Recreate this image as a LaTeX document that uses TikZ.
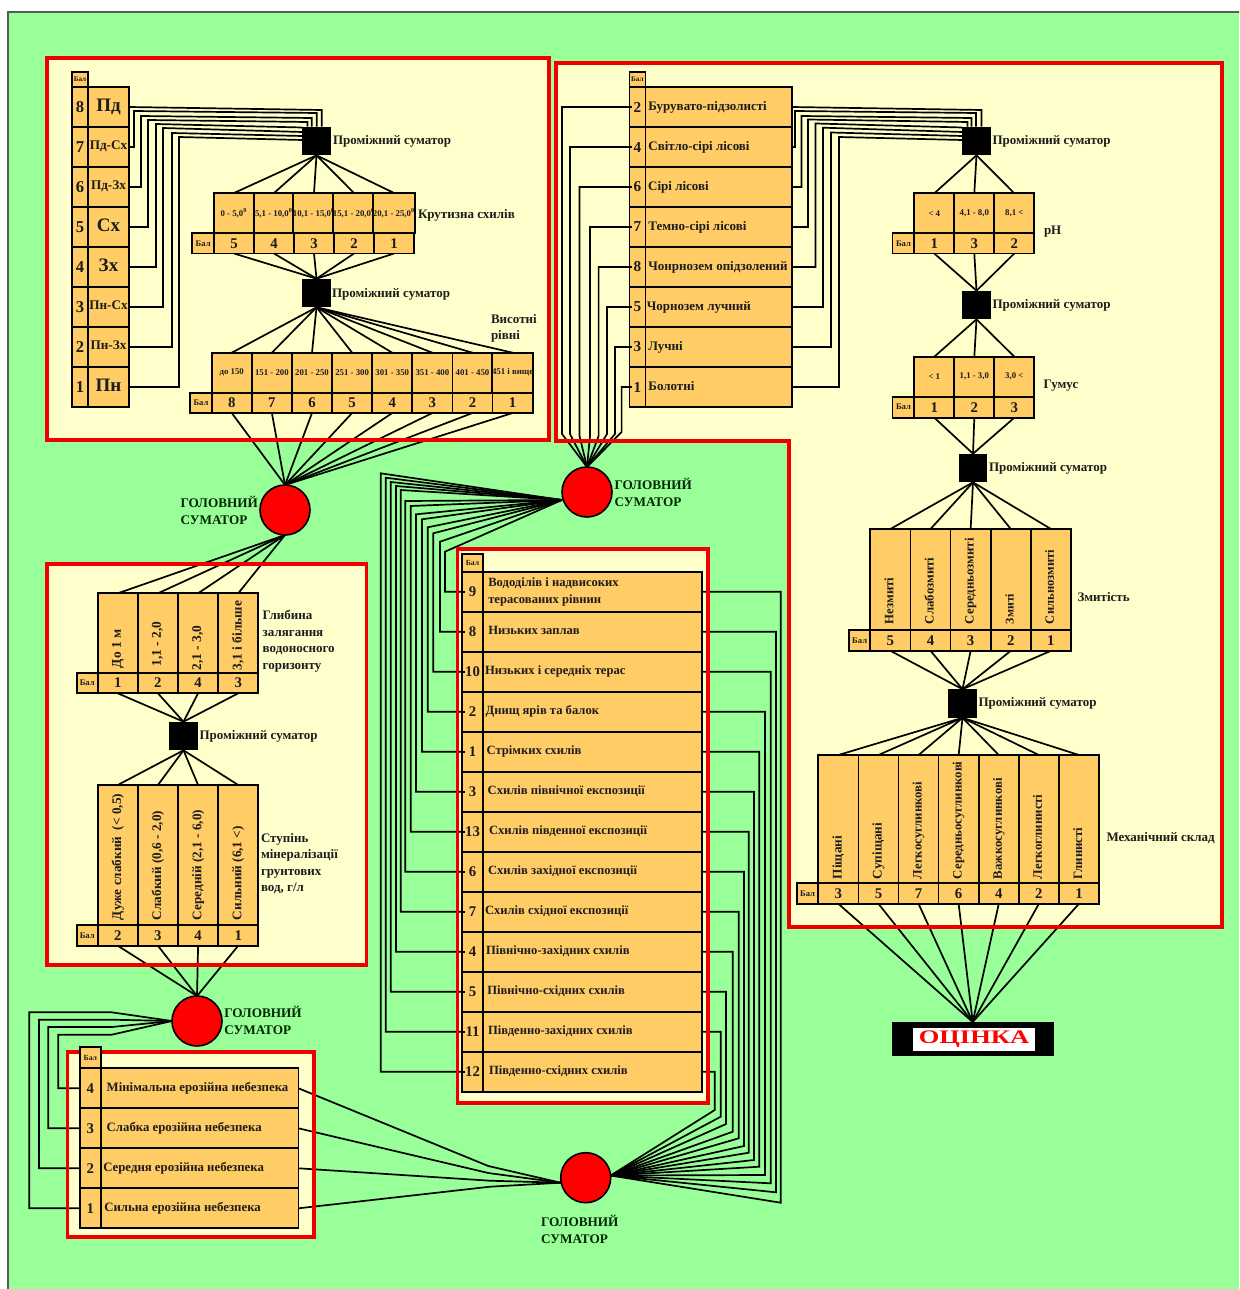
\documentclass[tikz,border=0pt]{standalone}
\usepackage{fontspec}
\usepackage{graphicx}
\setmainfont{Liberation Serif}
\usetikzlibrary{calc}
\definecolor{cellc}{HTML}{FFCC66}
\definecolor{bgreen}{HTML}{99FF99}
\definecolor{pane}{HTML}{FFFFCC}
\definecolor{redc}{HTML}{EE0000}
\definecolor{tcol}{HTML}{1C1C1C}
\pgfdeclarelayer{bgfill}
\pgfdeclarelayer{wires}
\pgfdeclarelayer{redl}
\pgfdeclarelayer{topl}
\pgfsetlayers{bgfill,wires,redl,main,topl}
\newdimen\pxu \pxu=0.5pt
\newcommand{\fs}[1]{\fontsize{#1}{#1}\bfseries\selectfont}
\tikzset{
  cellb/.style={draw=black,fill=cellc,line width=0.85pt,inner sep=0pt,outer sep=0pt,text=tcol,font=\fs{4.4}},
  wire/.style={draw=black,line width=0.85pt,line join=miter},
  panelb/.style={draw=redc,line width=1.75pt,line join=miter},
  panelf/.style={fill=pane},
  sumsq/.style={fill=black,inner sep=0pt,outer sep=0pt,minimum size=14.3pt},
  sumc/.style={circle,draw=black,fill=red,line width=0.8pt,minimum size=25pt,inner sep=0pt,outer sep=0pt},
  lab/.style={anchor=west,inner sep=0pt,outer sep=0pt,text=tcol,align=left,font=\fontsize{6.5}{8.25}\bfseries\selectfont},
  sumlab/.style={lab,font=\fontsize{6.5}{8}\bfseries\selectfont},
  headlab/.style={lab,font=\fontsize{6.6}{8.5}\bfseries\selectfont,text=black!85!green},
}
% cell given by its corners in pixels
\newcommand{\cellbox}[7][]{%
  \pgfmathsetmacro\cw{(#5-#3)*0.5}\pgfmathsetmacro\ch{(#6-#4)*0.5}%
  \node[cellb,minimum width=\cw pt,minimum height=\ch pt,#1] (#2) at ({(#3+#5)/2},{(#4+#6)/2}) {#7};}
\newcommand{\rotlab}[3]{\rotatebox{90}{\makebox[\curH pt][l]{\hspace*{#1\pxu}\fs{#2}#3\vphantom{Бр}}}}
% horizontal table: prefix, x0, ytop, ymid, ybot, xbal, cellw, items
\newcommand{\htable}[8]{%
  \pgfmathsetmacro\curH{(#4-#3)*0.5}%
  \foreach \tx/\vl [count=\ii] in {#8}{%
    \pgfmathsetmacro\xa{#2+(\ii-1)*#7}\pgfmathsetmacro\xb{\xa+#7}%
    \cellbox{#1t\ii}{\xa}{#3}{\xb}{#4}{\tx}%
    \cellbox[font=\fs{7.4}]{#1b\ii}{\xa}{#4}{\xb}{#5}{\vl}%
  }%
  \cellbox[font=\fs{4.3}]{#1bal}{#6}{#4}{#2}{#5}{Бал}%
}
% vertical table: prefix, xa, xb, xc, ytop, numfont, label font, items num/off/text
\newcommand{\vtable}[8]{%
  \pgfmathsetmacro\labw{(#4-#3)*0.5}%
  \foreach \nm/\off/\tx [count=\ii] in {#8}{%
    \pgfmathsetmacro\ya{#5+(\ii-1)*40}\pgfmathsetmacro\yb{\ya+40}%
    \cellbox[font=\fs{#6}]{#1n\ii}{#2}{\ya}{#3}{\yb}{\nm}%
    \cellbox[font=\fs{#7}]{#1l\ii}{#3}{\ya}{#4}{\yb}{\makebox[\labw pt][\vtalign]{\hspace*{\off\pxu}\tx\vphantom{Бр}}}%
  }%
}
\newcommand{\vtalign}{l}
\newcommand{\fanup}[3]{\begin{pgfonlayer}{wires}\foreach \ii in {1,...,#3}{\draw[wire] (#1) -- (#2t\ii.north);}\end{pgfonlayer}}
\newcommand{\fandown}[3]{\begin{pgfonlayer}{wires}\foreach \ii in {1,...,#2}{\draw[wire] (#1b\ii.south) -- (#3);}\end{pgfonlayer}}
\begin{document}
\begin{tikzpicture}[x=0.5pt,y=-0.5pt]
\useasboundingbox (0,0) rectangle (1239,1289);
\begin{pgfonlayer}{bgfill}
  \fill[white] (0,0) rectangle (1239,1289);
  \begin{scope}
    \clip (0,0) rectangle (1239,1289);
    \draw[fill=bgreen,draw=black!65,line width=0.7pt] (8,12) rectangle (1245,1295);
  \end{scope}
  \fill[panelf] (47,58) rectangle (549,440);
  \fill[panelf] (556,63) -- (1222,63) -- (1222,927) -- (789,927) -- (789,441) -- (556,441) -- cycle;
  \fill[panelf] (47,564) rectangle (366.5,965);
  \fill[panelf] (457.5,549) rectangle (708,1103);
  \fill[panelf] (67.5,1052) rectangle (314,1237);
\end{pgfonlayer}
\begin{pgfonlayer}{redl}
  \draw[panelb] (47,58) rectangle (549,440);
  \draw[panelb] (556,63) -- (1222,63) -- (1222,927) -- (789,927) -- (789,441) -- (556,441) -- cycle;
  \draw[panelb] (47,564) rectangle (366.5,965);
  \draw[panelb] (457.5,549) rectangle (708,1103);
  \draw[panelb] (67.5,1052) rectangle (314,1237);
\end{pgfonlayer}

% ---------- panel 1
\cellbox[font=\fs{3.6}]{tabal}{72}{72}{88}{87}{Бал}
\renewcommand{\vtalign}{c}
\vtable{ta}{72}{88}{129}{87}{8.3}{9}{8/0/{\fs{9.5}Пд},7/0/{\fs{6.6}Пд-Сх},6/0/{\fs{6.6}Пд-Зх},5/0/{\fs{9.5}Сх},4/0/{\fs{9.5}Зх},3/0/{\fs{6.6}Пн-Сх},2/0/{\fs{6.6}Пн-Зх},1/0/{\fs{9.5}Пн}}
\renewcommand{\vtalign}{l}
\node[sumsq] (sa) at (316.5,141) {};
\node[sumlab] (sala) at (333,141) {Проміжний суматор};
\htable{kr}{214}{193}{233}{253.5}{192.3}{40}{{0 - 5,0\textsuperscript{0}}/5,{5,1 - 10,0\textsuperscript{0}}/4,{10,1 - 15,0\textsuperscript{0}}/3,{15,1 - 20,0\textsuperscript{0}}/2,{20,1 - 25,0\textsuperscript{0}}/1}
\node[lab] (krla) at (418,215) {Крутизна схилів};
\node[sumsq] (sb) at (316.5,293) {};
\node[sumlab] (sbla) at (332,294) {Проміжний суматор};
\htable{vy}{211.7}{352.7}{392.7}{413}{190.3}{40.125}{до 150/8,151 - 200/7,201 - 250/6,251 - 300/5,301 - 350/4,351 - 400/3,401 - 450/2,451 і вище/1}
\node[lab] (vyla) at (491,328.5) {Висотні\\рівні};
\node[sumc] (ca) at (285,510) {};
\node[headlab] (cala) at (180.5,510.5) {ГОЛОВНИЙ\\СУМАТОР};

% ---------- panel 2 (soils)
\cellbox[font=\fs{3.6}]{tbbal}{629.4}{72}{645.4}{87}{Бал}
\vtable{tb}{629.4}{645.4}{792}{87}{7.6}{6.5}{2/3/Бурувато-підзолисті,4/3/Світло-сірі лісові,6/2.8/Сірі лісові,7/3/Темно-сірі лісові,8/3/Чонрнозем опідзолений,5/1.5/Чорнозем лучний,3/3/Лучні,1/3/Болотні}
\node[sumsq] (sd) at (976.5,141) {};
\node[sumlab] (sdla) at (992.5,141) {Проміжний суматор};
\htable{ph}{914.3}{193.3}{233}{253.5}{892.6}{40}{{< 4}/1,{4,1 - 8,0}/3,{8,1 <}/2}
\node[lab] (phla) at (1044,231.5) {рН};
\node[sumsq] (se) at (976.5,305) {};
\node[sumlab] (sela) at (992.5,305) {Проміжний суматор};
\htable{gu}{914.3}{356.7}{396.7}{417.7}{892.6}{40}{{< 1}/1,{1,1 - 3,0}/2,{3,0 <}/3}
\node[lab] (gula) at (1043.5,385.5) {Гумус};
\node[sumsq] (sf) at (973,468) {};
\node[sumlab] (sfla) at (989,468) {Проміжний суматор};
\htable{zm}{870.3}{529}{630}{650.8}{849}{40.14}{{\rotlab{6}{6.4}{Незмиті}}/5,{\rotlab{6}{6.4}{Слабозмиті}}/4,{\rotlab{6}{6.4}{Середньозмиті}}/3,{\rotlab{6}{5.9}{Змиті}}/2,{\rotlab{6}{6.3}{Сильнозмиті}}/1}
\node[lab] (zmla) at (1077.5,597) {Змитість};
\node[sumsq] (sg) at (962.5,703.5) {};
\node[sumlab] (sgla) at (978.5,703.5) {Проміжний суматор};
\htable{me}{818.3}{755}{883}{903.8}{796.7}{40.1}{{\rotlab{4}{6.6}{Піщані}}/3,{\rotlab{4}{6.6}{Супіщані}}/5,{\rotlab{4}{6.4}{Легкосуглинкові}}/7,{\rotlab{4}{6.4}{Середньосуглинкові}}/6,{\rotlab{4}{6.4}{Важкосуглинкові}}/4,{\rotlab{4}{6.4}{Легкоглинисті}}/2,{\rotlab{4}{6.4}{Глинисті}}/1}
\node[lab] (mela) at (1106.5,838) {Механічний склад};
\node[fill=black,minimum width=81pt,minimum height=17pt,inner sep=0pt,outer sep=0pt] (oc) at (972.7,1039) {};
\node[fill=white,minimum width=61pt,minimum height=11.5pt,inner sep=0pt,text=red,font=\fs{9.6}] (ocin) at (974,1039) {\scalebox{1.38}[1]{ОЦІНКА}};

% ---------- panel 4 (ground water)
\htable{gl}{97.7}{593.3}{672.7}{693.3}{76.7}{40.15}{{\rotlab{4.5}{6.7}{До 1 м}}/1,{\rotlab{6.5}{6.7}{1,1 - 2,0}}/2,{\rotlab{2.5}{6.7}{2,1 - 3,0}}/4,{\rotlab{2.5}{6.7}{3,1 і більше}}/3}
\node[lab] (glla) at (262.7,641) {Глибина\\залягання\\водоносного\\горизонту};
\node[sumsq] (sc) at (183.5,736) {};
\node[sumlab] (scla) at (199.5,736.5) {Проміжний суматор};
\htable{st}{97.7}{785}{925}{945.7}{76.7}{40.15}{{\rotlab{5}{6.6}{Дуже слабкий\ \ (< 0,5)}}/2,{\rotlab{5}{6.6}{Слабкий (0,6 - 2,0)}}/3,{\rotlab{5}{6.6}{Середній (2,1 - 6,0)}}/4,{\rotlab{5}{6.6}{Сильний (6,1 <)}}/1}
\node[lab] (stla) at (261,863.5) {Ступінь\\мінералізації\\грунтових\\вод, г/л};
\node[sumc] (cc) at (197,1021) {};
\node[headlab] (ccla) at (224.3,1020.5) {ГОЛОВНИЙ\\СУМАТОР};

% ---------- panel 3 (relief)
\cellbox[font=\fs{3.9}]{tcbal}{462.3}{554.3}{482.7}{571.7}{Бал}
\vtable{tc}{462.3}{482.7}{702.3}{571.7}{7.4}{6.3}{9/5.6/{\parbox[c]{100pt}{\fontsize{6.3}{8.3}\selectfont Вододілів і надвисоких\\терасованих рівнин}},8/5.6/Низьких заплав,10/2.3/Низьких і середніх терас,2/3/Днищ ярів та балок,1/4/Стрімких схилів,3/5/Схилів північної експозиції,13/6.3/Схилів південної експозиції,6/5.3/Схилів західної експозиції,7/2.3/Схилів східної експозиції,4/3.3/Північно-західних схилів,5/4.6/Північно-східних схилів,11/5.3/Південно-західних схилів,12/6.3/Південно-східних схилів}
\node[sumc] (cb) at (587,492) {};
\node[headlab] (cbla) at (614.5,492.5) {ГОЛОВНИЙ\\СУМАТОР};
\node[sumc] (cd) at (585.7,1177.7) {};
\node[headlab] (cdla) at (541,1229) {ГОЛОВНИЙ\\СУМАТОР};

% ---------- panel 5 (erosion)
\cellbox[font=\fs{3.9}]{tdbal}{80}{1047}{100.7}{1068.3}{Бал}
\vtable{td}{80}{100.7}{298.5}{1068.3}{7.4}{6.4}{4/6/Мінімальна ерозійна небезпека,3/6/Слабка ерозійна небезпека,2/2.6/Середня ерозійна небезпека,1/3.6/Сильна ерозійна небезпека}

% ---------- fans
\fanup{sa.south}{kr}{5}
\fandown{kr}{5}{sb.north}
\fanup{sb.south}{vy}{8}
\fandown{vy}{8}{ca.north}
\fanup{sd.south}{ph}{3}
\fandown{ph}{3}{se.north}
\fanup{se.south}{gu}{3}
\fandown{gu}{3}{sf.north}
\fanup{sf.south}{zm}{5}
\fandown{zm}{5}{sg.north}
\fanup{sg.south}{me}{7}
\fandown{me}{7}{oc.north}
\fanup{ca.south}{gl}{4}
\fandown{gl}{4}{sc.north}
\fanup{sc.south}{st}{4}
\fandown{st}{4}{cc.north}

\begin{pgfonlayer}{wires}
% bundle of panel 1 into the square
\draw[wire] (tal1.east) -- (321.7,110) -- (321.7,0 |- sa.north);
\foreach \ii/\vx/\ya/\xb/\yb in {2/134/111/316.7/113,3/141/116/311.7/118,4/148/120/307.5/122}
  {\draw[wire] (tal\ii.east) -| (\vx,\ya) -- (\xb,\yb) -- (\xb,0 |- sa.north);}
\foreach \ii/\vx/\ya/\yb in {5/156/124/127.5,6/163/128/132,7/172/133/136,8/179/137/140}
  {\draw[wire] (tal\ii.east) -| (\vx,\ya) -- (sa.west |- 0,\yb);}
% bundle of panel 2 into the square
\draw[wire] (tbl1.east) -- (981.5,110) -- (981.5,0 |- sd.north);
\foreach \ii/\vx/\ya/\xb/\yb in {2/795/111/976/113,3/801.5/116/971.5/118,4/808/119.5/967.5/122}
  {\draw[wire] (tbl\ii.east) -| (\vx,\ya) -- (\xb,\yb) -- (\xb,0 |- sd.north);}
\foreach \ii/\vx/\ya/\yb in {5/815.5/123.5/127.5,6/823/127.7/132,7/831/132.5/136,8/839/137/140}
  {\draw[wire] (tbl\ii.east) -| (\vx,\ya) -- (sd.west |- 0,\yb);}
% soils into head adder
\foreach \ii/\vx/\vy in {1/562/434,2/570/434,3/579.5/436,4/590/436,5/598.6/436,6/607/434,7/615/434,8/621.6/432}
  {\draw[wire] (tbn\ii.west) -| (\vx,\vy) -- (cb.north);}
% relief: left side into head adder 2
\foreach \ii/\vx/\vy in {1/445/551.7,2/440/541.7,3/433.3/533.3,4/427.7/527.3,5/422/519.3,6/416/514.3,7/410.7/506,8/405.3/501,9/400.7/490,10/396/486,11/390.7/482,12/385.7/477.7,13/380.7/473.3}
  {\draw[wire] (tcn\ii.west) -| (\vx,\vy) -- ($(cb.west)+(0,8)$);}
% relief: right side into head adder 4
\foreach \ii/\vx/\vy in {1/780.7/1202.7,2/776/1192.3,3/770.7/1183.3,4/765/1175,5/759.3/1166.7,6/754/1160,7/748.7/1152.7,8/744/1146,9/738.7/1138.3,10/732.7/1131.7,11/726/1124,12/720.7/1116.7,13/714.7/1110}
  {\draw[wire] (tcl\ii.east) -| (\vx,\vy) -- (cd.5);}
% erosion: left side into head adder 3
\foreach \ii/\vx/\vy in {1/58.3/1034.7,2/48.3/1027,3/39/1019.7,4/29.3/1012.3}
  {\draw[wire] (tdn\ii.west) -| (\vx,\vy) -- (111.7,\vy) -- (cc.west);}
% erosion: right side into head adder 4
\foreach \ii/\xm/\ym in {1/488.3/1166,2/488.3/1173,3/490/1180.7,4/490/1186.7}
  {\draw[wire] (tdl\ii.east) -- (\xm,\ym) -- ($(cd.west)+(0,5)$);}
\end{pgfonlayer}
% short ticks of the connectors inside the number cells
\begin{pgfonlayer}{topl}
\foreach \ii in {1,...,8}{\draw[wire] (tbn\ii.west) -- ++(3,0);}
\foreach \ii in {1,...,13}{\draw[wire] (tcn\ii.west) -- ++(3,0);}
\end{pgfonlayer}
\end{tikzpicture}
\end{document}
